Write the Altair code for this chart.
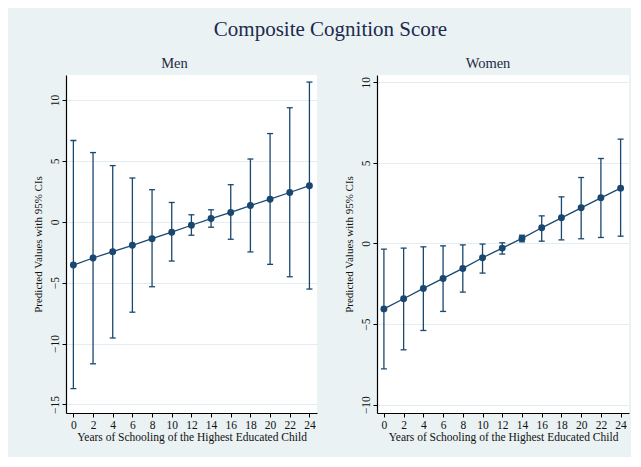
import altair as alt
import pandas as pd

years = list(range(0, 25, 2))
men_pred = [-3.55, -2.97, -2.45, -1.93, -1.38, -0.85, -0.28, 0.27, 0.77, 1.34, 1.86, 2.41, 2.97]
men_lo = [-13.7, -11.66, -9.54, -7.42, -5.33, -3.22, -1.1, -0.44, -1.43, -2.47, -3.49, -4.51, -5.52]
men_hi = [6.68, 5.69, 4.62, 3.6, 2.64, 1.59, 0.58, 0.99, 3.05, 5.16, 7.25, 9.37, 11.48]
women_pred = [-4.06, -3.43, -2.79, -2.17, -1.55, -0.89, -0.29, 0.31, 0.97, 1.59, 2.21, 2.83, 3.43]
women_lo = [-7.78, -6.6, -5.4, -4.22, -3.02, -1.84, -0.66, 0.1, 0.14, 0.22, 0.29, 0.37, 0.45]
women_hi = [-0.35, -0.29, -0.21, -0.15, -0.09, -0.04, 0.04, 0.51, 1.71, 2.89, 4.09, 5.27, 6.47]

men_yticks = [-15, -10, -5, 0, 5, 10]
women_yticks = [-10, -5, 0, 5, 10]

NAVY = "#1A476F"
SERIF = "Liberation Serif"
XTITLE = "Years of Schooling of the Highest Educated Child"
YTITLE = "Predicted Values with 95% CIs"


def panel(pred, lo, hi, name, xdom, ydom, yticks, width, dx):
    df = pd.DataFrame({"years": years, "pred": pred, "lo": lo, "hi": hi})
    xs = alt.Scale(domain=xdom, nice=False, zero=False)
    ys = alt.Scale(domain=ydom, nice=False, zero=False)
    xaxis = alt.Axis(values=years, title=XTITLE, grid=False, labelAngle=0,
                     labelOverlap=False, labelFlush=False)
    yaxis = alt.Axis(values=yticks, title=YTITLE, grid=True,
                     labelAngle=-90, labelAlign="center",
                     labelBaseline="bottom", labelOverlap=False,
                     labelFlush=False)
    x = alt.X("years:Q", scale=xs, axis=xaxis)

    def yc(field):
        return alt.Y(f"{field}:Q", scale=ys, axis=yaxis)

    base = alt.Chart(df)
    rules = base.mark_rule(color=NAVY, strokeWidth=1.3).encode(
        x=x, y=yc("lo"), y2="hi:Q")
    cap_lo = base.mark_tick(orient="horizontal", size=6, thickness=1.3,
                            color=NAVY, opacity=1).encode(x=x, y=yc("lo"))
    cap_hi = base.mark_tick(orient="horizontal", size=6, thickness=1.3,
                            color=NAVY, opacity=1).encode(x=x, y=yc("hi"))
    line = base.mark_line(color=NAVY, strokeWidth=1.3).encode(x=x, y=yc("pred"))
    pts = base.mark_circle(color=NAVY, size=48, opacity=1).encode(x=x, y=yc("pred"))
    return alt.layer(rules, cap_lo, cap_hi, line, pts).properties(
        width=width, height=338,
        title=alt.TitleParams(name, dx=dx, fontSize=14.5, font=SERIF,
                              fontWeight="normal", color="#1f2a44", offset=4),
    )


men = panel(men_pred, men_lo, men_hi, "Men", [-0.75, 24.77], [-15.7, 12.06],
            men_yticks, 251, -17)
women = panel(women_pred, women_lo, women_hi, "Women", [-0.7, 24.85], [-10.52, 10.45],
              women_yticks, 252, -15)

chart = alt.hconcat(men, women, spacing=26).properties(
    title=alt.TitleParams("Composite Cognition Score", fontSize=21, font=SERIF,
                          fontWeight="normal", color="#1c2a4e", anchor="middle",
                          offset=16),
    background="#EAF2F3",
    padding={"left": 24, "top": 10, "right": 2, "bottom": 14},
).configure_view(stroke=None, fill="white").configure_axis(
    domainColor="#000000", domainWidth=1.2, tickColor="#000000", tickSize=4,
    tickWidth=1, labelFont=SERIF, labelFontSize=11.5, labelColor="#111111",
    titleFont=SERIF, titleFontSize=11.5, titleFontWeight="normal",
    titleColor="#111111", gridColor="#E4EDF0", gridWidth=1, labelPadding=2,
    titlePadding=4, labelOverlap=False,
).configure_axisX(titlePadding=1).configure_axisY(titleFontSize=11, titlePadding=6)

chart.save("out.html", embed_options={"renderer": "svg", "actions": False})
